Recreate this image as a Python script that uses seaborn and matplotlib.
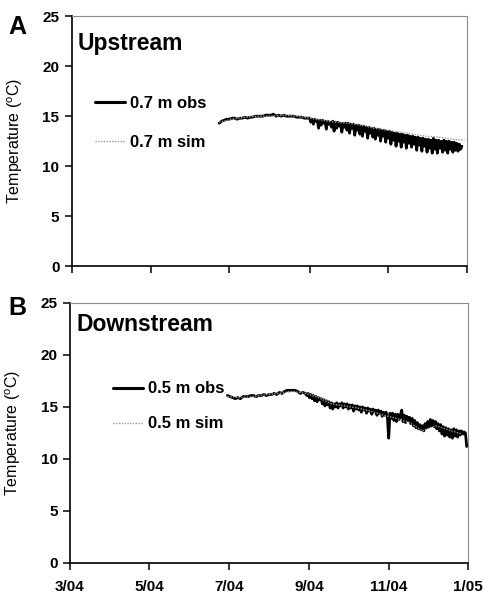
import pandas as pd
import matplotlib
matplotlib.use("Agg")
import matplotlib.pyplot as plt
import seaborn as sns

# --- data ---
# upstream 0.7 m observed: every 2 days 2004-06-23..08-30, then daily 09-01..12-28
up_obs_early = [14.3, 14.5, 14.6, 14.7, 14.7, 14.8, 14.8, 14.7, 14.8, 14.8, 14.9, 14.8, 14.9, 14.9, 15.0,
                15.0, 15.0, 15.0, 15.1, 15.1, 15.1, 15.2, 15.0, 15.1, 15.0, 15.1, 15.0, 15.0, 15.0, 15.0,
                14.9, 14.9, 14.9, 14.8, 14.8]
up_obs_late = [14.8, 14.4, 14.7, 14.2, 14.7, 14.5, 14.6, 13.8, 14.6, 14.1,
               14.6, 14.3, 14.5, 13.7, 14.5, 14.2, 14.4, 13.9, 14.5, 13.5,
               14.4, 13.8, 14.4, 14.0, 14.3, 13.4, 14.3, 13.9, 14.3, 13.6,
               14.3, 13.3, 14.2, 13.8, 14.2, 13.1, 14.1, 13.6, 14.1, 13.2,
               14.0, 13.0, 14.0, 13.5, 13.9, 12.8, 13.9, 13.3, 13.8, 12.9,
               13.8, 12.7, 13.7, 13.1, 13.7, 12.5, 13.6, 13.0, 13.6, 12.4,
               13.5, 12.8, 13.5, 12.2, 13.4, 12.6, 13.3, 12.0, 13.3, 12.5,
               13.2, 11.9, 13.2, 12.4, 13.1, 11.8, 13.1, 12.3, 13.0, 11.9,
               13.0, 12.2, 12.9, 11.6, 12.9, 12.1, 12.8, 11.5, 12.8, 12.0,
               12.7, 11.4, 12.7, 11.8, 12.6, 11.3, 12.8, 11.7, 12.6, 11.3,
               12.6, 11.8, 12.5, 11.4, 12.6, 11.6, 12.5, 11.3, 12.5, 11.7,
               12.4, 11.4, 12.4, 11.6, 12.3, 11.5, 12.2, 11.7, 12.0]
# upstream 0.7 m simulated, every 10 days from 2004-06-23
up_sim = [14.4, 14.7, 14.9, 15.0, 15.0, 15.1, 15.0, 14.8, 14.6, 14.4,
          14.3, 14.1, 13.8, 13.6, 13.4, 13.2, 13.0, 12.9, 12.7, 12.6]

# downstream 0.5 m observed: every 2 days 2004-06-30..08-27, then daily 08-29..12-31
dn_obs_early = [16.1, 16.0, 15.9, 15.8, 15.9, 15.8, 16.0, 16.0, 16.0, 16.1, 16.1, 16.0, 16.1, 16.1, 16.2,
                16.1, 16.2, 16.2, 16.3, 16.2, 16.4, 16.3, 16.5, 16.6, 16.6, 16.6, 16.6, 16.5, 16.3, 16.4]
dn_obs_late = [16.3, 16.1, 16.3, 15.9, 16.2, 15.8, 16.1, 15.6, 16.0, 15.5,
               15.9, 15.7, 15.8, 15.3, 15.7, 15.1, 15.6, 15.2, 15.5, 14.9,
               15.4, 14.8, 15.3, 15.0, 15.4, 14.9, 15.3, 15.1, 15.4, 14.9,
               15.3, 15.0, 15.3, 14.8, 15.2, 14.9, 15.2, 14.6, 15.1, 14.8,
               15.1, 14.7, 15.0, 14.5, 15.0, 14.7, 14.9, 14.4, 14.9, 14.6,
               14.8, 14.3, 14.8, 14.5, 14.7, 14.2, 14.7, 14.4, 14.6, 14.1,
               14.5, 14.2, 14.5, 14.0, 12.0, 14.4, 13.9, 14.4, 13.7, 14.3,
               13.6, 14.3, 13.8, 14.2, 14.7, 13.6, 14.2, 13.5, 14.1, 13.7,
               14.0, 13.4, 13.9, 13.2, 13.7, 13.0, 13.5, 12.9, 13.3, 12.8,
               13.2, 12.7, 13.4, 13.0, 13.6, 13.1, 13.8, 13.2, 13.7, 13.1,
               13.6, 12.9, 13.4, 12.7, 13.3, 12.4, 13.1, 12.2, 13.0, 12.3,
               12.9, 12.1, 12.8, 12.0, 12.9, 12.2, 12.8, 12.1, 12.7, 12.3,
               12.7, 12.4, 12.6, 12.5, 11.2]
# downstream 0.5 m simulated, every 10 days from 2004-06-30
dn_sim = [16.0, 15.9, 16.0, 16.2, 16.3, 16.5, 16.3, 15.9, 15.3, 15.1,
          14.9, 14.6, 14.2, 13.9, 13.5, 12.7, 13.2, 12.8, 12.4]

tick_dates = ["2004-03-01", "2004-05-01", "2004-07-01", "2004-09-01", "2004-11-01", "2005-01-01"]
tick_labels = ["3/04", "5/04", "7/04", "9/04", "11/04", "1/05"]
y_ticks = [0, 5, 10, 15, 20, 25]


def series(start, values, freq):
    return pd.DataFrame({"date": pd.date_range(start, periods=len(values), freq=freq), "temp": values})


up = pd.concat([series("2004-06-23", up_obs_early, "2D"), series("2004-09-01", up_obs_late, "D")])
ups = series("2004-06-23", up_sim, "10D")
dn = pd.concat([series("2004-06-30", dn_obs_early, "2D"), series("2004-08-29", dn_obs_late, "D")])
dns = series("2004-06-30", dn_sim, "10D")

sns.set_style("ticks")
plt.rcParams["font.family"] = ["Liberation Sans", "DejaVu Sans"]
plt.rcParams["font.weight"] = "bold"
plt.rcParams["path.simplify"] = False  # keep every zigzag of the noisy obs trace
for k in ["text.color", "axes.labelcolor", "xtick.color", "ytick.color"]:
    plt.rcParams[k] = "black"

fig = plt.figure(figsize=(4.83, 5.97), dpi=100)
ax1 = fig.add_axes([0.149, 0.554, 0.818, 0.419])
ax2 = fig.add_axes([0.145, 0.057, 0.824, 0.4355])

# (axes, obs, sim, depth, title, letter, letter y px, legend anchor, label spacing, title y)
panels = [
    (ax1, up, ups, "0.7 m", "Upstream", "A", 27, (0.058, 0.574), 1.45, 0.892),
    (ax2, dn, dns, "0.5 m", "Downstream", "B", 308, (0.108, 0.602), 1.2, 0.919),
]
xt = pd.to_datetime(tick_dates)

for ax, obs, sim, depth, title, letter, ly, leg_pos, lsp, ty in panels:
    sns.lineplot(data=obs, x="date", y="temp", ax=ax, color="black", lw=2.0,
                 label=f"{depth} obs")
    sns.lineplot(data=sim, x="date", y="temp", ax=ax, color="#9a9a9a", lw=1.0,
                 linestyle=(0, (1, 1)), label=f"{depth} sim")
    ax.set_xlim(xt[0], xt[-1])
    ax.set_ylim(0, 25)
    ax.set_xticks(xt)
    ax.set_yticks(y_ticks)
    ax.set_yticklabels([str(v) for v in y_ticks], fontsize=11, fontweight="bold")
    ax.set_xlabel("")
    ax.set_ylabel("Temperature ($^{\\mathregular{o}}$C)", fontsize=11.5, fontweight="normal")
    ax.yaxis.set_label_coords(-0.118, 0.5)
    ax.tick_params(direction="out", length=5, width=1.1, pad=4)
    for s in ["left", "bottom"]:
        ax.spines[s].set_linewidth(1.2)
        ax.spines[s].set_color("black")
    for s in ["top", "right"]:
        ax.spines[s].set_visible(True)
        ax.spines[s].set_linewidth(0.8)
        ax.spines[s].set_color("#8a8a8a")
    ax.text(0.015, ty, title, transform=ax.transAxes, fontsize=16.5, fontweight="bold",
            va="center", ha="left")
    fig.text(8 / 483, 1 - ly / 597, letter, fontsize=18, fontweight="bold",
             va="center", ha="left")
    leg = ax.legend(loc="center left", bbox_to_anchor=leg_pos, frameon=False,
                    fontsize=12, handlelength=1.8, handletextpad=0.3, labelspacing=lsp,
                    borderpad=0, borderaxespad=0)
    for line in leg.get_lines()[:1]:
        line.set_linewidth(2.2)
    for t in leg.get_texts():
        t.set_fontweight("bold")

ax1.set_xticklabels([])
ax2.set_xticklabels(tick_labels, fontsize=11, fontweight="bold")
ax2.tick_params(axis="x", pad=7)

fig.savefig("out.png", dpi=100)
